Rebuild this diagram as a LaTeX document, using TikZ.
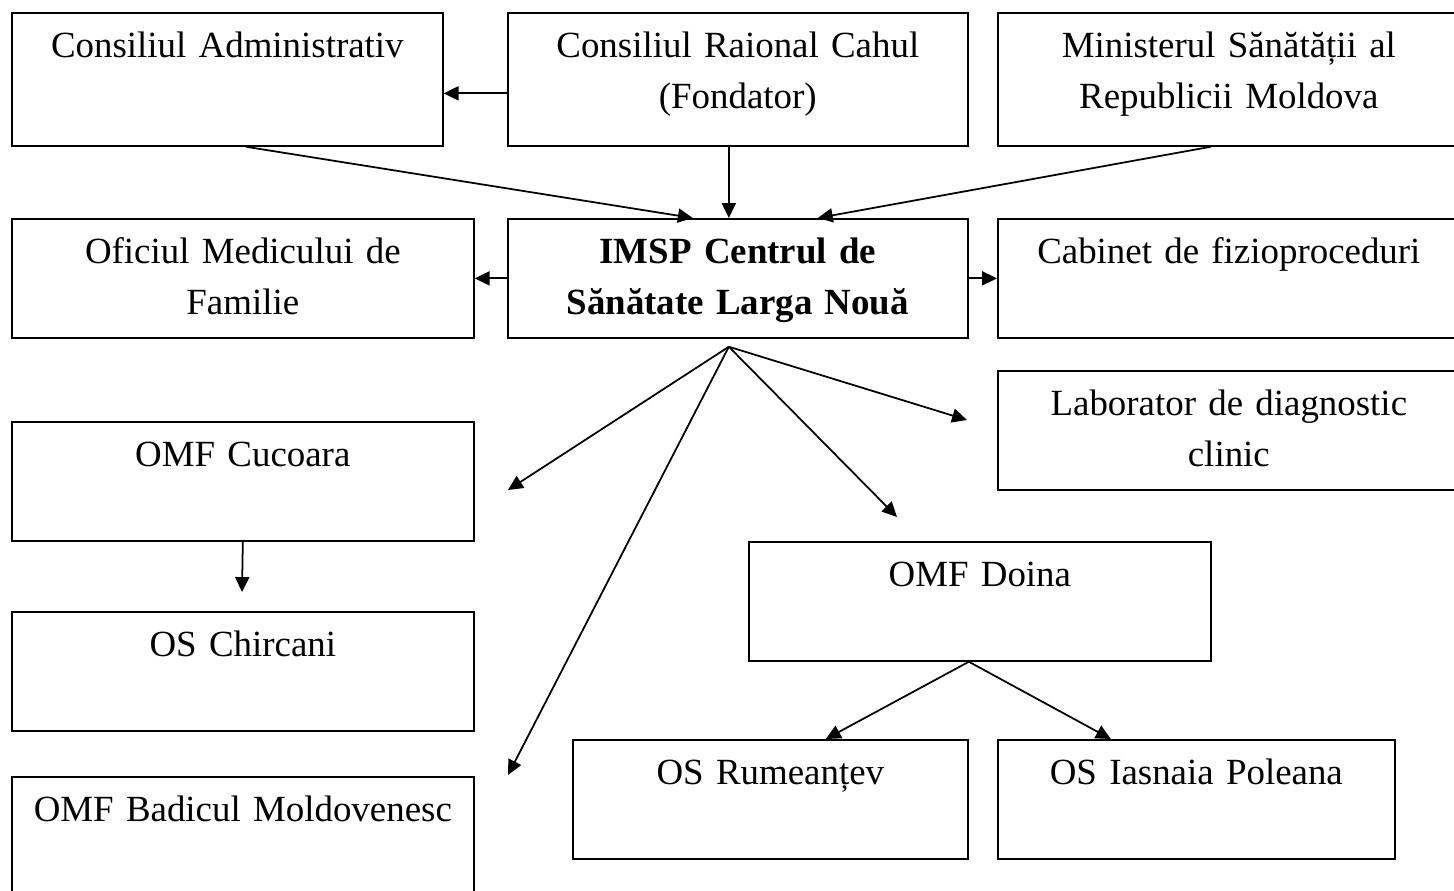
\documentclass[tikz,border=0pt]{standalone}
\usepackage{fontspec}
\setmainfont{Liberation Serif}
\usetikzlibrary{arrows.meta}
\begin{document}
\begin{tikzpicture}[x=0.02cm,y=-0.02cm,
  box/.style={draw,line width=1pt,align=center,inner xsep=0pt,inner ysep=0pt,
    text width=#1,text height=0.9cm,text depth=1.48cm,anchor=north west,
    font=\fontsize{21}{29}\selectfont},
  tallbox/.style={box=#1,text depth=1.76cm},
  arr/.style={line width=1pt,-{Triangle[length=8.5pt,width=8pt]}}]
\useasboundingbox (0,0) rectangle (1454,890);
\clip (0,0) rectangle (1454,890);

% top row
\node[tallbox=8.62cm] (ca) at (11,12) {Consiliul Administrativ};
\node[tallbox=9.2cm] (cr) at (507,12) {Consiliul Raional Cahul\\(Fondator)};
\node[tallbox=9.24cm] (min) at (997,12) {Ministerul Sănătății al\\Republicii Moldova};

% second row
\node[box=9.24cm] (omf) at (11,218) {Oficiul Medicului de\\Familie};
\node[box=9.2cm] (imsp) at (507,218) {\textbf{IMSP Centrul de}\\\textbf{Sănătate Larga Nouă}};
\node[box=9.24cm] (cab) at (997,218) {Cabinet de fizioproceduri};

% subdivisions
\node[box=9.24cm] (lab) at (997,370) {Laborator de diagnostic\\clinic};
\node[box=9.24cm] (cuc) at (11,421) {OMF Cucoara};
\node[box=9.24cm] (chir) at (11,611) {OS Chircani};
\node[box=9.24cm] (doina) at (748,541) {OMF Doina};
\node[box=7.9cm] (rum) at (572,739) {OS Rumeanțev};
\node[box=7.94cm] (ias) at (997,739) {OS Iasnaia Poleana};
\node[box=9.24cm] (bad) at (11,776) {OMF Badicul Moldovenesc};

% arrows between the top rows
\draw[arr] ([yshift=-0.28cm]cr.west) -- ([yshift=-0.28cm]ca.east);
\draw[arr] ([xshift=0.37cm]ca.south) -- ([xshift=-0.9cm]imsp.north);
\draw[arr] ([xshift=-0.18cm]cr.south) -- ([xshift=-0.18cm]imsp.north);
\draw[arr] ([xshift=-0.36cm]min.south) -- ([xshift=1.6cm]imsp.north);
\draw[arr] (imsp.west) -- (omf.east);
\draw[arr] (imsp.east) -- (cab.west);

% fan below the centre
\coordinate (fan) at ([xshift=-0.18cm,yshift=-0.16cm]imsp.south);
\coordinate (tocuc) at (508,490);
\coordinate (tobad) at (508,775);
\coordinate (todoina) at (897,517);
\coordinate (tolab) at (967,420);
\draw[arr] (fan) -- (tocuc);
\draw[arr] (fan) -- (tobad);
\draw[arr] (fan) -- (todoina);
\draw[arr] (fan) -- (tolab);

\coordinate (tochir) at (242,592);
\draw[arr] (cuc.south) -- (tochir);

\coordinate (dfan) at ([xshift=-0.22cm]doina.south);
\draw[arr] (dfan) -- ([xshift=1.11cm]rum.north);
\draw[arr] (dfan) -- ([xshift=-1.71cm]ias.north);
\end{tikzpicture}
\end{document}
